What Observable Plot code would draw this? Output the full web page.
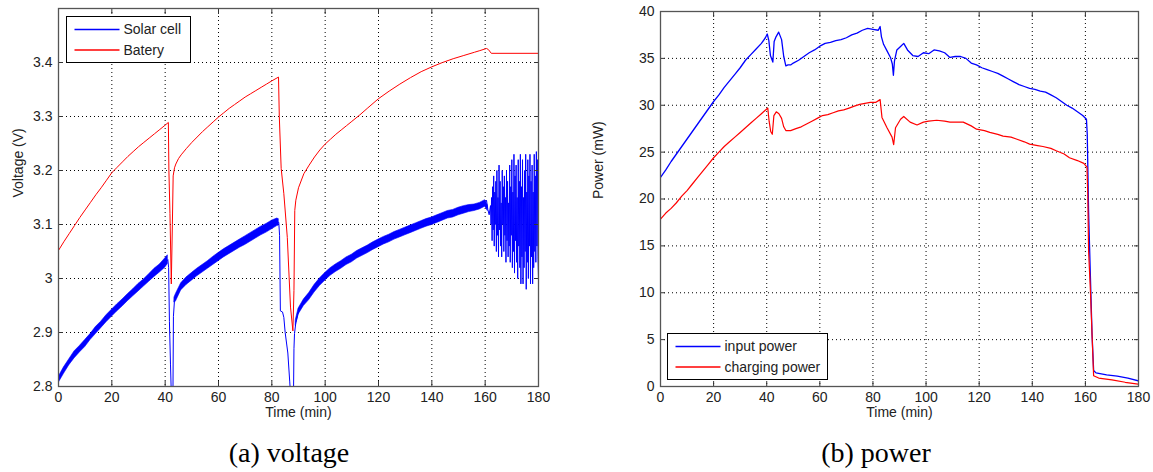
<!DOCTYPE html>
<html>
<head>
<meta charset="utf-8">
<script src="https://cdn.jsdelivr.net/npm/d3@7"></script>
<script src="https://cdn.jsdelivr.net/npm/@observablehq/plot@0.6"></script>
<style>
  html, body { margin: 0; padding: 0; background: #fff; }
  #wrap { position: relative; width: 1153px; height: 472px; overflow: hidden; background: #fff; }
  #wrap > .panel { position: absolute; top: 0; }
  #overlay { position: absolute; left: 0; top: 0; pointer-events: none; }
</style>
</head>
<body>
<div id="wrap">
  <div class="panel" id="left" style="left:0px"></div>
  <div class="panel" id="right" style="left:580px"></div>
</div>
<script>
// ---------- tick labels ----------
const timeTicks = [0, 20, 40, 60, 80, 100, 120, 140, 160, 180];
const voltageTicks = [2.8, 2.9, 3.0, 3.1, 3.2, 3.3, 3.4, 3.5];
const voltageLabels = [2.8, 2.9, 3.0, 3.1, 3.2, 3.3, 3.4];
const powerTicks = [0, 5, 10, 15, 20, 25, 30, 35, 40];

// ---------- text ----------
const voltageSeriesNames = ["Solar cell", "Batery"];
const powerSeriesNames = ["input power", "charging power"];
const captions = ["(a) voltage", "(b) power"];

// ---------- (a) solar cell voltage (centre line) ----------
const solarTime = [0,2,4,6,8,10,12,14,16,18,20,22,24,26,28,30,32,34,36,38,40,41,
  41.3,41.6,42,42.4,42.7,42.9,43.1,43.5,44,46,48,50,52,54,56,58,60,62,64,66,68,70,72,74,76,78,80,82,82.6,
  82.9,83.2,84,84.5,85,86,86.7,87.2,87.6,88.1,88.3,88.5,89,90,92,94,96,98,100,102,104,106,108,110,112,114,116,118,120,
  122,124,126,128,130,132,134,136,138,140,142,144,146,148,150,152,154,156,158,160,160.5,161,161.5,162,
  162.2,162.4,162.6,162.8,163.0,163.2,163.4,163.6,163.8,164.0,164.2,164.4,164.6,164.8,165.0,165.2,165.4,165.6,165.8,166.0,
  166.2,166.4,166.6,166.8,167.0,167.2,167.4,167.6,167.8,168.0,168.2,168.4,168.6,168.8,169.0,169.2,169.4,169.6,169.8,170.0,
  170.2,170.4,170.6,170.8,171.0,171.2,171.4,171.6,171.8,172.0,172.2,172.4,172.6,172.8,173.0,173.2,173.4,173.6,173.8,174.0,
  174.2,174.4,174.6,174.8,175.0,175.2,175.4,175.6,175.8,176.0,176.2,176.4,176.6,176.8,177.0,177.2,177.4,177.6,177.8,178.0,
  178.2,178.4,178.6,178.8,179.0,179.2,179.4,179.6,179.8,180];
const solarVoltage = [2.812,2.829,2.845,2.858,2.869,2.880,2.892,2.903,2.915,2.925,2.936,2.945,2.955,2.964,2.974,2.983,2.992,3.001,3.010,3.019,3.028,3.035,
  3.02,2.92,2.84,2.77,2.74,2.77,2.93,2.960,2.964,2.985,2.995,3.003,3.011,3.018,3.025,3.033,3.040,3.046,3.052,3.058,3.064,3.070,3.076,3.082,3.088,3.093,3.099,3.104,3.104,
  3.08,2.94,2.938,2.928,2.90,2.862,2.81,2.77,2.74,2.77,2.87,2.898,2.918,2.938,2.955,2.966,2.981,2.993,3.003,3.012,3.019,3.025,3.032,3.037,3.044,3.049,3.054,3.060,3.065,
  3.070,3.074,3.079,3.083,3.087,3.091,3.095,3.099,3.103,3.106,3.110,3.114,3.118,3.120,3.124,3.127,3.130,3.131,3.134,3.139,3.145,3.128,3.118,3.135,
  3.10,3.15,3.07,3.17,3.09,3.19,3.06,3.16,3.10,3.18,3.05,3.20,3.08,3.15,3.04,3.21,3.09,3.18,3.06,3.14,
  3.04,3.20,3.10,3.17,3.05,3.19,3.08,3.15,3.03,3.20,3.07,3.18,3.04,3.14,3.06,3.21,3.03,3.17,3.08,3.22,
  3.02,3.16,3.05,3.23,3.01,3.19,3.07,3.21,3.03,3.15,3.00,3.22,3.06,3.18,3.02,3.23,2.99,3.17,3.04,3.22,
  2.99,3.15,3.02,3.20,3.05,3.23,2.98,3.16,3.03,3.22,3.00,3.19,3.06,3.23,2.99,3.18,3.04,3.21,2.99,3.16,
  3.02,3.23,3.05,3.19,3.03,3.235,3.06,3.22,3.04,3.00];

// ---------- (a) solar cell voltage noise band (low / high edges) ----------
const solarBandTime = [0,2,4,6,8,10,12,14,16,18,20,22,24,26,28,30,32,34,36,38,40,41,41.05,
  43.5,44,46,48,50,52,54,56,58,60,62,64,66,68,70,72,74,76,78,80,82,82.6,82.65,
  89,90,92,94,96,98,100,102,104,106,108,110,112,114,116,118,120,122,124,126,128,130,132,134,136,138,140,142,144,146,148,150,152,154,156,158,160,161];
const solarBandLow = [2.806,2.823,2.839,2.852,2.863,2.873,2.886,2.897,2.908,2.919,2.929,2.939,2.948,2.958,2.967,2.976,2.985,2.994,3.003,3.011,3.020,3.027,NaN,
  2.956,2.957,2.978,2.988,2.996,3.004,3.011,3.018,3.025,3.032,3.039,3.045,3.051,3.057,3.062,3.068,3.074,3.080,3.085,3.091,3.097,3.098,NaN,
  2.913,2.933,2.949,2.960,2.974,2.986,2.996,3.005,3.012,3.018,3.025,3.030,3.037,3.042,3.047,3.053,3.058,3.063,3.067,3.072,3.076,3.080,3.084,3.088,3.092,3.096,3.099,3.103,3.107,3.111,3.113,3.117,3.120,3.123,3.125,3.128,3.133,3.125];
const solarBandHigh = [2.817,2.835,2.850,2.865,2.875,2.886,2.897,2.910,2.920,2.932,2.942,2.952,2.961,2.971,2.980,2.990,2.998,3.008,3.018,3.026,3.037,3.043,NaN,
  2.965,2.971,2.991,3.002,3.010,3.018,3.025,3.032,3.040,3.047,3.054,3.060,3.066,3.072,3.078,3.084,3.090,3.096,3.101,3.107,3.111,3.110,NaN,
  2.923,2.944,2.961,2.973,2.988,3.000,3.010,3.019,3.026,3.032,3.039,3.044,3.051,3.056,3.061,3.067,3.072,3.077,3.081,3.086,3.090,3.094,3.098,3.102,3.106,3.110,3.113,3.117,3.121,3.125,3.127,3.131,3.134,3.136,3.137,3.140,3.145,3.135];

// ---------- (a) battery voltage ----------
const batteryTime = [0,2,4,6,8,10,12,14,16,18,20,22,24,26,28,30,32,34,36,38,40,41.2,41.4,41.8,42.3,42.7,43.0,43.5,44,45,46,48,50,52,54,56,58,60,62,64,66,68,70,72,74,76,78,80,82.5,
  82.8,83.5,84.5,85.8,87,87.9,88.3,88.6,89,90,92,94,96,98,100,102,104,106,108,110,113,116,120,124,128,132,136,140,144,148,152,156,158,160.5,161.2,162.3,180];
const batteryVoltage = [3.052,3.068,3.083,3.098,3.113,3.127,3.141,3.155,3.168,3.182,3.196,3.206,3.216,3.226,3.235,3.244,3.252,3.260,3.268,3.276,3.284,3.289,3.20,3.12,2.99,3.10,3.19,3.205,3.212,3.222,3.229,3.241,3.252,3.262,3.272,3.281,3.290,3.299,3.307,3.315,3.322,3.329,3.336,3.342,3.348,3.354,3.360,3.366,3.373,
  3.30,3.204,3.157,3.076,2.947,2.903,2.978,3.126,3.145,3.168,3.194,3.21,3.225,3.238,3.249,3.258,3.267,3.275,3.283,3.291,3.303,3.316,3.333,3.347,3.36,3.372,3.383,3.392,3.400,3.407,3.413,3.419,3.422,3.426,3.424,3.417,3.417];

// ---------- (b) input power ----------
const inputTime = [0,2,4,6,8,10,12,14,16,18,20,22,24,26,28,30,32,34,36,38,39.5,40.2,40.8,41.4,42.3,42.8,43.5,44.5,45.6,46.4,47.2,48,49,50,52,54,56,58,60,62,64,66,68,70,72,74,76,78,80,82,82.7,
  83.2,84,85.3,86.6,87.3,87.7,88.1,89,90.5,91.6,93,95,97,99,101,103,105,107,109,111,113,115,117,119,121,123,125,127,129,131,133,135,137,139,141,143,145,147,149,151,153,155,157,159,160.4,
  160.7,161.2,161.9,162.5,163.1,164,168,172,176,180];
const inputPower = [22.3,23.1,24.0,24.8,25.6,26.4,27.2,28.0,28.8,29.6,30.4,31.1,31.9,32.6,33.3,34.0,34.8,35.4,36.0,36.6,37.2,37.6,36.9,35.3,34.6,36.8,37.3,37.8,37.0,35.2,34.2,34.3,34.3,34.5,34.8,35.2,35.6,35.9,36.3,36.6,36.7,36.9,37.0,37.2,37.5,37.7,38.0,38.2,38.1,38.0,38.4,
  37.3,36.5,35.8,35.1,34.4,33.2,34.7,35.9,36.3,36.6,35.9,35.3,35.2,35.6,35.5,35.9,35.8,35.6,35.1,35.2,35.2,35.0,34.5,34.3,34.0,33.8,33.6,33.4,33.1,32.8,32.5,32.2,32.0,31.8,31.7,31.5,31.4,31.1,30.8,30.4,30.0,29.7,29.3,28.9,28.5,
  26.9,18.7,11.6,5.6,1.7,1.45,1.25,1.1,0.9,0.6];

// ---------- (b) charging power ----------
const chargeTime = [0,2,4,6,8,10,12,14,16,18,20,22,24,26,28,30,32,34,36,38,40,40.4,40.9,41.5,42.1,42.7,43.6,44.6,45.6,46.4,47.2,49,51,53,55,57,59,61,63,65,67,69,71,73,75,77,79,81,82.7,
  83.4,85.3,87.2,87.8,88.5,90.4,91.6,94,96.6,99,101,104,107,109,112,114,117,119,122,124,127,129,132,134,137,139,142,144,147,149,152,154,157,159.4,160.6,
  160.9,161.2,161.9,162.5,163.1,165,170,175,180];
const chargePower = [17.85,18.5,19.0,19.6,20.3,20.9,21.6,22.3,23.0,23.7,24.4,25.0,25.6,26.1,26.6,27.1,27.6,28.1,28.6,29.1,29.6,29.7,28.3,27.2,26.9,28.9,29.3,29.1,28.6,27.7,27.3,27.3,27.5,27.7,28.0,28.3,28.6,28.9,29.0,29.2,29.4,29.5,29.7,29.9,30.1,30.2,30.3,30.3,30.6,
  28.7,27.6,26.6,25.8,27.6,28.5,28.8,28.2,27.9,28.2,28.3,28.4,28.3,28.2,28.2,28.2,27.8,27.45,27.3,27.1,26.9,26.7,26.6,26.4,26.1,25.85,25.7,25.6,25.4,25.15,24.8,24.4,24.1,23.8,23.4,
  20.5,14.5,10.2,5.6,1.15,0.9,0.7,0.45,0.25];

const BLUE = "#0000ff", RED = "#ff0000";
const zip = (xs, ys) => xs.map((t, i) => ({t, v: ys[i]}));
const solarBand = solarBandTime.map((t, i) => ({t, lo: solarBandLow[i], hi: solarBandHigh[i]}));

function panel({width, marginLeft, marginRight, marginTop, marginBottom, yDomain, yTicks, yLabelTicks, yLabel, series, extra = []}) {
  const grid = {stroke: "#000", strokeOpacity: 1, strokeWidth: 1, strokeDasharray: "1,3"};
  return Plot.plot({
    width, height: 430, marginLeft, marginRight, marginTop, marginBottom,
    style: {fontFamily: "'Liberation Sans', Arial, sans-serif", fontSize: "14px", color: "#222", background: "transparent"},
    x: {domain: [0, 180]},
    y: {domain: yDomain},
    marks: [
      Plot.gridX(timeTicks, grid),
      Plot.gridY(yTicks, grid),
      ...extra,
      ...series.map(s => Plot.line(zip(s.t, s.v), {x: "t", y: "v", stroke: s.color, strokeWidth: s.w, clip: true})),
      Plot.axisX(timeTicks, {anchor: "bottom", tickSize: 0, tickPadding: 6, label: null, tickFormat: d => String(d), fontSize: 14}),
      Plot.axisX(timeTicks, {anchor: "bottom", tickSize: -5, text: null, label: null, stroke: "#333"}),
      Plot.axisX(timeTicks, {anchor: "top", tickSize: -5, text: null, label: null, stroke: "#333"}),
      Plot.axisY(yLabelTicks, {anchor: "left", tickSize: 0, tickPadding: 6, label: null, tickFormat: d => String(d), fontSize: 14}),
      Plot.axisY(yTicks, {anchor: "left", tickSize: -5, text: null, label: null, stroke: "#333"}),
      Plot.axisY(yTicks, {anchor: "right", tickSize: -5, text: null, label: null, stroke: "#333"}),
      Plot.frame({stroke: "#555", strokeWidth: 1.3}),
      Plot.text([yLabel], {frameAnchor: "left", dx: -marginLeft + 18, rotate: -90, fontSize: 14, fill: "#222"}),
      Plot.text(["Time (min)"], {frameAnchor: "bottom", dy: 30, fontSize: 14, fill: "#222"})
    ]
  });
}

const left = panel({
  width: 550, marginLeft: 58, marginRight: 12, marginTop: 8, marginBottom: 44,
  yDomain: [2.8, 3.5], yTicks: voltageTicks, yLabelTicks: voltageLabels, yLabel: "Voltage (V)",
  extra: [Plot.areaY(solarBand, {x: "t", y1: "lo", y2: "hi", fill: BLUE, stroke: BLUE, strokeWidth: 0.6, clip: true})],
  series: [
    {t: solarTime, v: solarVoltage, color: BLUE, w: 1},
    {t: batteryTime, v: batteryVoltage, color: RED, w: 1}
  ]
});
document.getElementById("left").appendChild(left);

const right = panel({
  width: 573, marginLeft: 80, marginRight: 15, marginTop: 11, marginBottom: 44,
  yDomain: [0, 40], yTicks: powerTicks, yLabelTicks: powerTicks, yLabel: "Power (mW)",
  series: [
    {t: inputTime, v: inputPower, color: BLUE, w: 1.3},
    {t: chargeTime, v: chargePower, color: RED, w: 1.2}
  ]
});
document.getElementById("right").appendChild(right);

// ---------- legends and captions overlay ----------
const overlay = d3.select("#wrap").append("svg").attr("id", "overlay").attr("width", 1153).attr("height", 472)
  .style("font-family", "'Liberation Sans', Arial, sans-serif");

function legend(x, y, w, h, names, colors, rows) {
  const g = overlay.append("g").attr("transform", `translate(${x},${y})`);
  g.append("rect").attr("width", w).attr("height", h).attr("fill", "#fff").attr("stroke", "#000").attr("stroke-width", 1);
  names.forEach((n, i) => {
    g.append("line").attr("x1", 8).attr("x2", 53).attr("y1", rows[i]).attr("y2", rows[i]).attr("stroke", colors[i]).attr("stroke-width", 1.3);
    g.append("text").attr("x", 57).attr("y", rows[i]).attr("dy", "0.35em").attr("font-size", 14).attr("fill", "#222").text(n);
  });
}
legend(66.5, 16.5, 124, 46, voltageSeriesNames, [BLUE, RED], [13, 33.5]);
legend(667.5, 333.5, 160, 46, powerSeriesNames, [BLUE, RED], [13, 33.5]);

overlay.selectAll("text.caption").data(captions).join("text")
  .attr("class", "caption")
  .attr("x", (d, i) => i === 0 ? 289 : 876)
  .attr("y", 462)
  .attr("text-anchor", "middle")
  .attr("font-family", "'Liberation Serif', 'Times New Roman', serif")
  .attr("font-size", 28)
  .attr("fill", "#000")
  .text(d => d);
</script>
</body>
</html>
